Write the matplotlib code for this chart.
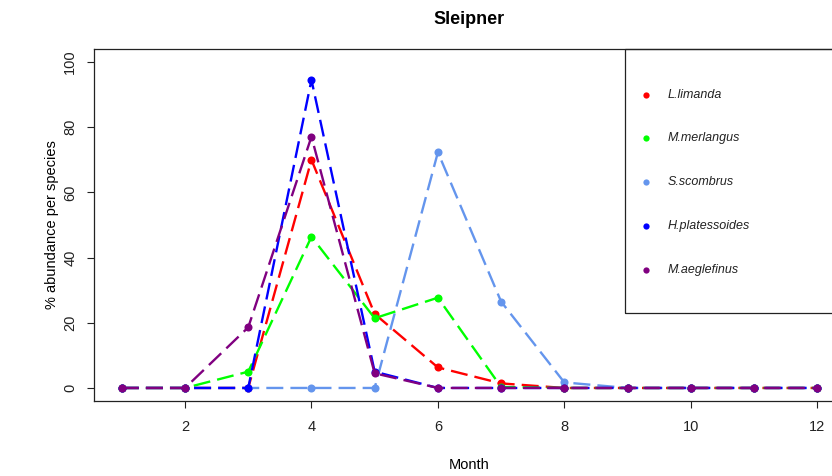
import matplotlib
matplotlib.use("Agg")
import matplotlib.pyplot as plt
from matplotlib.patches import Rectangle
from matplotlib.lines import Line2D

plt.rcParams['font.family'] = ['Liberation Sans', 'DejaVu Sans']

months = [1, 2, 3, 4, 5, 6, 7, 8, 9, 10, 11, 12]
species = ["L.limanda", "M.merlangus", "S.scombrus", "H.platessoides", "M.aeglefinus"]
l_limanda = [0, 0, 0, 70.0, 22.7, 6.3, 1.4, 0, 0, 0, 0, 0]
m_merlangus = [0, 0, 5.0, 46.4, 21.4, 27.7, 0.3, 0, 0, 0, 0, 0]
s_scombrus = [0, 0, 0, 0, 0, 72.3, 26.5, 1.7, 0, 0, 0, 0]
h_platessoides = [0, 0, 0, 94.5, 5.0, 0, 0, 0, 0, 0, 0, 0]
m_aeglefinus = [0, 0, 18.6, 77.1, 4.5, 0, 0, 0, 0, 0, 0, 0]
series = [l_limanda, m_merlangus, s_scombrus, h_platessoides, m_aeglefinus]
colors = ["#FF0000", "#00FF00", "#6495ED", "#0000FF", "#800080"]
xticks = [2, 4, 6, 8, 10, 12]
yticks = [0, 20, 40, 60, 80, 100]

W, H = 832, 476
fig = plt.figure(figsize=(W / 100, H / 100), dpi=100)
L, R, B, T = 94, 845, 401, 49
ax = fig.add_axes([L / W, 1 - B / H, (R - L) / W, (B - T) / H])

for vals, c in zip(series, colors):
    ax.plot(months, vals, color=c, lw=1.7, dashes=(7.2, 3.0),
            marker='o', markersize=5.8, markeredgewidth=0, markerfacecolor=c)

ax.set_xlim(0.56, 12.44)
ax.set_ylim(-4, 104)
ax.set_xticks(xticks)
ax.set_xticklabels([str(v) for v in xticks])
ax.set_yticks(yticks)
ax.set_yticklabels([str(v) for v in yticks], rotation=90, va='center')
ax.tick_params(axis='both', direction='out', length=5, width=0.8,
               labelsize=10.5, colors='#222222', pad=7)
ax.tick_params(axis='x', pad=9)
for s in ax.spines.values():
    s.set_linewidth(0.9)
    s.set_color('#222222')

ax.set_title("Sleipner", fontsize=13, fontweight='bold', pad=18)
ax.set_xlabel("Month", fontsize=10.5, labelpad=17)
ax.set_ylabel("% abundance per species", fontsize=10.5, labelpad=3)

# legend box (manual, R-style, extending past the right edge)
rect = Rectangle((625 / W, 1 - 313 / H), (900 - 625) / W, (313 - 49) / H,
                 transform=fig.transFigure, fill=False, edgecolor='#222222',
                 lw=0.9, clip_on=False)
fig.add_artist(rect)
ys = [95, 138, 182, 226, 270]
for name, c, y in zip(species, colors, ys):
    fig.add_artist(Line2D([646 / W], [1 - y / H], transform=fig.transFigure,
                          marker='o', markersize=4.5, markeredgewidth=0,
                          color=c, linestyle='none'))
    fig.text(668 / W, 1 - y / H, name, fontsize=9, style='italic',
             va='center', ha='left', color='#222222')

fig.savefig("out.png", dpi=100)
